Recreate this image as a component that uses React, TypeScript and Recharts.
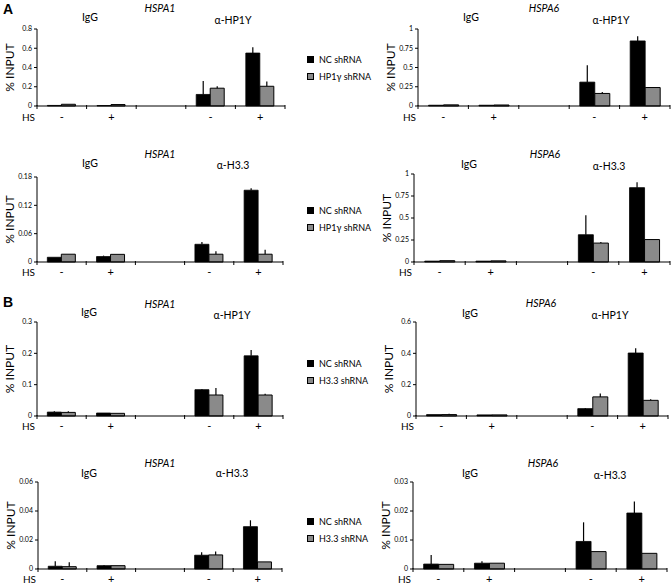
import React from 'react';
import { BarChart, Bar, XAxis, YAxis, ErrorBar, Legend } from 'recharts';

// ---------- shared categories ----------
const categories = ['IgG -', 'IgG +', 'gap', 'Ab -', 'Ab +'];
const xTickLabels = ['-', '+', '', '-', '+'];
const seriesOrder = ['nc', 'kd'];
const ncName = 'NC shRNA';
const kdNameA = 'HP1γ shRNA';
const kdNameB = 'H3.3 shRNA';

// ---------- Panel A, HSPA1, α-HP1γ ----------
const a1Nc = [0.006, 0.005, 0, 0.12, 0.55];
const a1NcErr = [0, 0, 0, 0.14, 0.06];
const a1Kd = [0.018, 0.015, 0, 0.185, 0.205];
const a1KdErr = [0, 0, 0, 0.02, 0.05];
const a1Ticks = [0, 0.2, 0.4, 0.6, 0.8];

// ---------- Panel A, HSPA6, α-HP1γ ----------
const a2Nc = [0.01, 0.01, 0, 0.31, 0.845];
const a2NcErr = [0, 0, 0, 0.22, 0.06];
const a2Kd = [0.015, 0.013, 0, 0.163, 0.24];
const a2KdErr = [0, 0, 0, 0.02, 0.005];
const a2Ticks = [0, 0.25, 0.5, 0.75, 1];

// ---------- Panel A, HSPA1, α-H3.3 ----------
const a3Nc = [0.01, 0.0115, 0, 0.0375, 0.152];
const a3NcErr = [0, 0.002, 0, 0.005, 0.004];
const a3Kd = [0.0165, 0.0162, 0, 0.0165, 0.0165];
const a3KdErr = [0, 0, 0, 0.0065, 0.0095];
const a3Ticks = [0, 0.06, 0.12, 0.18];

// ---------- Panel A, HSPA6, α-H3.3 ----------
const a4Nc = [0.01, 0.01, 0, 0.31, 0.845];
const a4NcErr = [0, 0, 0, 0.22, 0.06];
const a4Kd = [0.015, 0.013, 0, 0.215, 0.255];
const a4KdErr = [0, 0, 0, 0.012, 0.003];
const a4Ticks = [0, 0.25, 0.5, 0.75, 1];

// ---------- Panel B, HSPA1, α-HP1γ ----------
const b1Nc = [0.0125, 0.0095, 0, 0.084, 0.192];
const b1NcErr = [0.003, 0, 0, 0.002, 0.019];
const b1Kd = [0.0115, 0.0085, 0, 0.067, 0.067];
const b1KdErr = [0.004, 0, 0, 0.022, 0.004];
const b1Ticks = [0, 0.1, 0.2, 0.3];

// ---------- Panel B, HSPA6, α-HP1γ ----------
const b2Nc = [0.009, 0.007, 0, 0.047, 0.402];
const b2NcErr = [0, 0, 0, 0.004, 0.03];
const b2Kd = [0.009, 0.007, 0, 0.122, 0.1];
const b2KdErr = [0.006, 0, 0, 0.022, 0.007];
const b2Ticks = [0, 0.2, 0.4, 0.6];

// ---------- Panel B, HSPA1, α-H3.3 ----------
const b3Nc = [0.0019, 0.0023, 0, 0.0095, 0.0292];
const b3NcErr = [0.0034, 0.0005, 0, 0.0021, 0.0044];
const b3Kd = [0.0016, 0.0023, 0, 0.0097, 0.0049];
const b3KdErr = [0.003, 0, 0, 0.0023, 0];
const b3Ticks = [0, 0.02, 0.04, 0.06];

// ---------- Panel B, HSPA6, α-H3.3 ----------
const b4Nc = [0.0017, 0.002, 0, 0.0095, 0.0193];
const b4NcErr = [0.0031, 0.0007, 0, 0.0066, 0.004];
const b4Kd = [0.0016, 0.002, 0, 0.006, 0.0054];
const b4KdErr = [0, 0, 0, 0, 0];
const b4Ticks = [0, 0.01, 0.02, 0.03];

function buildRows(nc: number[], ncErr: number[], kd: number[], kdErr: number[]) {
  return categories.map((c, i) => ({
    cat: c,
    nc: nc[i],
    ncE: [0, ncErr[i]],
    kd: kd[i],
    kdE: [0, kdErr[i]],
  }));
}

type PanelCfg = {
  rows: any[];
  ticks: number[];
  left: number;
  right: number;
  top: number;
  bottom: number;
  labelDy: number;
  kdName: string;
  legendTop?: number;
  gene: string;
  ab: string;
  geneX: number;
  geneY: number;
  igX: number;
  igY: number;
  abX: number;
  abY: number;
};

const panels: PanelCfg[] = [
  { rows: buildRows(a1Nc, a1NcErr, a1Kd, a1KdErr), ticks: a1Ticks, left: 37, right: 285, top: 29, bottom: 106, labelDy: 11, kdName: kdNameA, legendTop: 50.5, gene: 'HSPA1', ab: 'α-HP1Y', geneX: 160, geneY: 8, igX: 90, igY: 17, abX: 233, abY: 20 },
  { rows: buildRows(a2Nc, a2NcErr, a2Kd, a2KdErr), ticks: a2Ticks, left: 418, right: 670, top: 29, bottom: 106, labelDy: 11, kdName: kdNameA, gene: 'HSPA6', ab: 'α-HP1Y', geneX: 544, geneY: 8, igX: 471, igY: 17, abX: 611, abY: 20 },
  { rows: buildRows(a3Nc, a3NcErr, a3Kd, a3KdErr), ticks: a3Ticks, left: 37, right: 283, top: 177, bottom: 262, labelDy: 10, kdName: kdNameA, legendTop: 201.5, gene: 'HSPA1', ab: 'α-H3.3', geneX: 160, geneY: 154, igX: 90, igY: 163, abX: 233, abY: 165 },
  { rows: buildRows(a4Nc, a4NcErr, a4Kd, a4KdErr), ticks: a4Ticks, left: 414, right: 670, top: 174, bottom: 262, labelDy: 10, kdName: kdNameA, gene: 'HSPA6', ab: 'α-H3.3', geneX: 545, geneY: 154, igX: 469, igY: 164, abX: 609, abY: 166 },
  { rows: buildRows(b1Nc, b1NcErr, b1Kd, b1KdErr), ticks: b1Ticks, left: 37, right: 283, top: 322, bottom: 416, labelDy: 10, kdName: kdNameB, legendTop: 354.5, gene: 'HSPA1', ab: 'α-HP1Y', geneX: 160, geneY: 304, igX: 89, igY: 312, abX: 232, abY: 315 },
  { rows: buildRows(b2Nc, b2NcErr, b2Kd, b2KdErr), ticks: b2Ticks, left: 416, right: 668, top: 322, bottom: 416, labelDy: 10, kdName: kdNameB, gene: 'HSPA6', ab: 'α-HP1Y', geneX: 541, geneY: 303, igX: 470, igY: 313, abX: 610, abY: 315 },
  { rows: buildRows(b3Nc, b3NcErr, b3Kd, b3KdErr), ticks: b3Ticks, left: 38, right: 282, top: 482, bottom: 569, labelDy: 10, kdName: kdNameB, legendTop: 512.5, gene: 'HSPA1', ab: 'α-H3.3', geneX: 160, geneY: 463, igX: 89, igY: 473, abX: 232, abY: 473 },
  { rows: buildRows(b4Nc, b4NcErr, b4Kd, b4KdErr), ticks: b4Ticks, left: 413, right: 667, top: 482, bottom: 569, labelDy: 10, kdName: kdNameB, gene: 'HSPA6', ab: 'α-H3.3', geneX: 543, geneY: 463, igX: 470, igY: 473, abX: 610, abY: 475 },
];

const FONT = "Lato, 'Open Sans', 'DejaVu Sans', sans-serif";
const GREY = '#8a8a8a';

function XTick(props: any) {
  const { x, y, index, band, dy } = props;
  const last = categories.length - 1;
  return (
    <g>
      <line x1={x - band / 2} x2={x - band / 2} y1={y - 1} y2={y + 3} stroke="#000" strokeWidth={1} />
      {index === last && (
        <line x1={x + band / 2} x2={x + band / 2} y1={y - 1} y2={y + 3} stroke="#000" strokeWidth={1} />
      )}
      <text x={x} y={y + dy} dy="0.35em" textAnchor="middle" fontSize={11} fill="#000">
        {xTickLabels[index]}
      </text>
      {index === 0 && (
        <text x={x - band / 2 - 2} y={y + dy} dy="0.35em" textAnchor="end" fontSize={10} fill="#000">
          HS
        </text>
      )}
    </g>
  );
}

function LegendContent(props: any) {
  const { payload, padLeft } = props;
  const items = [...(payload || [])].sort(
    (a: any, b: any) => seriesOrder.indexOf(a.dataKey) - seriesOrder.indexOf(b.dataKey)
  );
  return (
    <div style={{ paddingLeft: padLeft, fontFamily: FONT }}>
      {items.map((p: any) => (
        <div key={p.value} style={{ display: 'flex', alignItems: 'center', height: 17, fontSize: 9, color: '#000', whiteSpace: 'nowrap' }}>
          <span style={{ display: 'inline-block', width: 5, height: 5, background: p.color, border: '1px solid #000', marginRight: 5 }} />
          {p.value}
        </div>
      ))}
    </div>
  );
}

function Panel({ p }: { p: PanelCfg }) {
  const YW = 40;
  const MT = 6;
  const XH = 24;
  const hasLegend = p.legendTop !== undefined;
  const legendW = hasLegend ? 95 : 0;
  const MR = hasLegend ? 0 : 3;
  const plotW = p.right - p.left;
  const plotH = p.bottom - p.top;
  const width = YW + plotW + legendW + MR;
  const height = MT + plotH + XH;
  const band = plotW / categories.length;
  const chartTop = p.top - MT;
  const ymax = p.ticks[p.ticks.length - 1];
  return (
    <div style={{ position: 'absolute', left: p.left - YW, top: chartTop }}>
      <BarChart
        width={width}
        height={height}
        data={p.rows}
        margin={{ top: MT, right: MR, left: 0, bottom: 0 }}
        barCategoryGap="21%"
        barGap={0}
      >
        <XAxis
          dataKey="cat"
          height={XH}
          interval={0}
          tickLine={false}
          tickSize={0}
          tickMargin={0}
          axisLine={{ stroke: '#000', strokeWidth: 1 }}
          tick={(tp: any) => <XTick {...tp} band={band} dy={p.labelDy} />}
        />
        <YAxis
          width={YW}
          domain={[0, ymax]}
          ticks={p.ticks}
          interval={0}
          tickSize={3}
          tickMargin={2}
          tick={{ fontSize: 7, fill: '#000' }}
          tickLine={{ stroke: '#000' }}
          axisLine={{ stroke: '#000', strokeWidth: 1 }}
          label={{
            value: '% INPUT',
            angle: -90,
            position: 'insideLeft',
            offset: 13,
            style: { textAnchor: 'middle', fontSize: 12, fill: '#000' },
          }}
        />
        <Bar dataKey="nc" name={ncName} fill="#000" stroke="#000" strokeWidth={0.8} isAnimationActive={false}>
          <ErrorBar dataKey="ncE" width={0} stroke="#000" strokeWidth={1.2} direction="y" />
        </Bar>
        <Bar dataKey="kd" name={p.kdName} fill={GREY} stroke="#000" strokeWidth={1} isAnimationActive={false}>
          <ErrorBar dataKey="kdE" width={0} stroke="#000" strokeWidth={1.2} direction="y" />
        </Bar>
        {hasLegend && (
          <Legend
            layout="vertical"
            align="right"
            verticalAlign="top"
            wrapperStyle={{ top: (p.legendTop as number) - chartTop, width: legendW }}
            content={(lp: any) => <LegendContent {...lp} padLeft={307 - p.right} />}
          />
        )}
      </BarChart>
    </div>
  );
}

function Txt({ x, y, children, size = 10.5, italic = false, bold = false, family = FONT }: any) {
  return (
    <div
      style={{
        position: 'absolute',
        left: x,
        top: y,
        transform: 'translate(-50%, -50%)',
        whiteSpace: 'nowrap',
        lineHeight: 1,
        fontSize: size,
        fontStyle: italic ? 'italic' : 'normal',
        fontWeight: bold ? 700 : 400,
        fontFamily: family,
        color: '#000',
      }}
    >
      {children}
    </div>
  );
}

export default function App() {
  return (
    <div style={{ position: 'absolute', left: 0, top: 0, width: 672, height: 585, background: '#fff', fontFamily: FONT, overflow: 'hidden' }}>
      {panels.map((p, i) => (
        <React.Fragment key={i}>
          <Panel p={p} />
          <Txt x={p.geneX} y={p.geneY} italic>{p.gene}</Txt>
          <Txt x={p.igX} y={p.igY}>IgG</Txt>
          <Txt x={p.abX} y={p.abY}>{p.ab}</Txt>
        </React.Fragment>
      ))}
      <Txt x={8} y={9} size={14} bold family="'Liberation Sans', Arial, sans-serif">A</Txt>
      <Txt x={8} y={302} size={14} bold family="'Liberation Sans', Arial, sans-serif">B</Txt>
    </div>
  );
}
